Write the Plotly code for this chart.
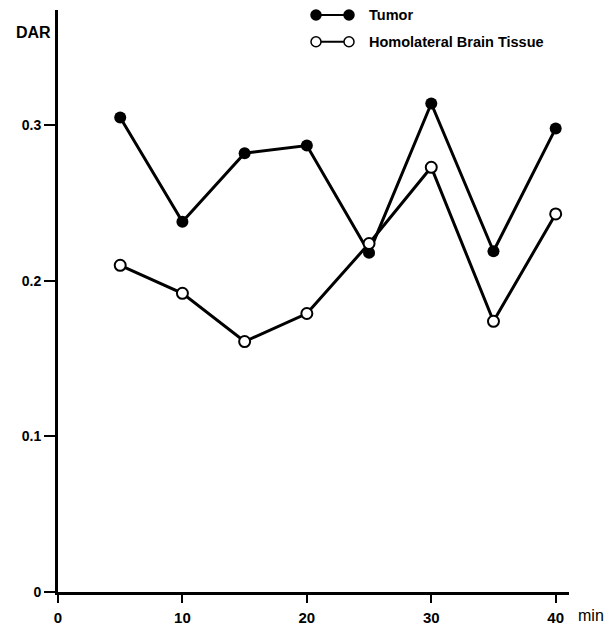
import plotly.graph_objects as go

minutes = [5, 10, 15, 20, 25, 30, 35, 40]
tumor = [0.305, 0.238, 0.282, 0.287, 0.218, 0.314, 0.219, 0.298]
brain = [0.210, 0.192, 0.161, 0.179, 0.224, 0.273, 0.174, 0.243]
x_ticks = [0, 10, 20, 30, 40]
x_tick_labels = ["0", "10", "20", "30", "40"]
y_ticks = [0, 0.1, 0.2, 0.3]
y_tick_labels = ["0", "0.1", "0.2", "0.3"]
series_names = ["Tumor", "Homolateral Brain Tissue"]

FONT = "Liberation Sans"

fig = go.Figure()
fig.add_trace(go.Scatter(
    x=minutes, y=tumor, mode="lines+markers", name=series_names[0],
    line=dict(color="black", width=3),
    marker=dict(size=12, color="black"),
    showlegend=False, cliponaxis=False))
fig.add_trace(go.Scatter(
    x=minutes, y=brain, mode="lines+markers", name=series_names[1],
    line=dict(color="black", width=3),
    marker=dict(size=11, color="white", line=dict(color="black", width=2)),
    showlegend=False, cliponaxis=False))

L, R, T, B = 58, 37, 10, 35
W, H = 606, 627
pw, ph = W - L - R, H - T - B

def px(xp):
    return (xp - L) / pw

def py(yp):
    return (H - B - yp) / ph

shapes = []
annotations = []
legend_rows = [(15, "black", series_names[0]), (41.7, "white", series_names[1])]
for yrow, fill, label in legend_rows:
    yy = py(yrow)
    shapes.append(dict(type="line", xref="paper", yref="paper",
                       x0=px(316), x1=px(349), y0=yy, y1=yy,
                       line=dict(color="black", width=2)))
    for xc in (316, 349):
        shapes.append(dict(type="circle", xref="paper", yref="paper",
                           xsizemode="pixel", ysizemode="pixel",
                           xanchor=px(xc), yanchor=yy,
                           x0=-5, x1=5, y0=-5, y1=5,
                           fillcolor=fill, line=dict(color="black", width=1.5)))
    annotations.append(dict(text=label, xref="paper", yref="paper",
                            x=px(367), y=yy, xanchor="left", yanchor="middle",
                            showarrow=False,
                            font=dict(family=FONT, size=14.5, color="black", weight="bold")))

annotations.append(dict(text="DAR", xref="paper", yref="paper",
                        x=px(53), y=py(33), xanchor="right", yanchor="middle",
                        showarrow=False,
                        font=dict(family=FONT, size=16, color="black", weight="bold")))
annotations.append(dict(text="min", xref="paper", yref="paper",
                        x=px(576), y=py(615), xanchor="left", yanchor="middle",
                        showarrow=False,
                        font=dict(family=FONT, size=16, color="black")))

fig.update_layout(
    width=W, height=H,
    margin=dict(l=L, r=R, t=T, b=B, pad=0, autoexpand=False),
    plot_bgcolor="white", paper_bgcolor="white",
    shapes=shapes, annotations=annotations,
    xaxis=dict(range=[0, 41.07], showgrid=False, zeroline=False, automargin=False,
               showline=True, linecolor="black", linewidth=3,
               ticks="outside", ticklen=8, tickwidth=2, tickcolor="black",
               ticklabelstandoff=2,
               tickvals=x_ticks, ticktext=x_tick_labels,
               tickfont=dict(family=FONT, size=15, color="black", weight="bold")),
    yaxis=dict(range=[0, 0.3741], showgrid=False, zeroline=False, automargin=False,
               showline=True, linecolor="black", linewidth=3,
               ticks="outside", ticklen=11, tickwidth=2, tickcolor="black",
               tickvals=y_ticks, ticktext=y_tick_labels,
               tickfont=dict(family=FONT, size=14, color="black", weight="bold")),
)

post = (
    "document.documentElement.style.overflow='hidden';"
    "document.documentElement.style.margin='0';"
    "document.body.style.margin='0';"
    "document.body.style.padding='0';"
    "document.body.style.overflow='hidden';"
    "document.body.style.height='627px';"
)
fig.write_html("out.html", config={"displayModeBar": False}, post_script=post)
